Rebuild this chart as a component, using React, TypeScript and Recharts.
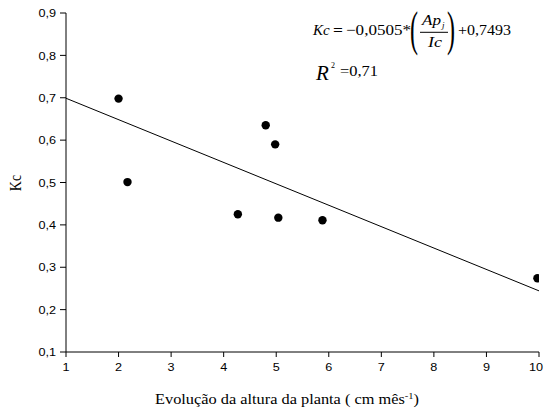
import React from 'react';
import { ScatterChart, Scatter, XAxis, YAxis, ReferenceLine } from 'recharts';

const growth = [2.0, 2.17, 4.27, 4.8, 4.98, 5.04, 5.88, 9.97];
const kcValues = [0.698, 0.501, 0.425, 0.635, 0.59, 0.417, 0.411, 0.274];
const xTicks = [1, 2, 3, 4, 5, 6, 7, 8, 9, 10];
const yTicks = [0.1, 0.2, 0.3, 0.4, 0.5, 0.6, 0.7, 0.8, 0.9];
const trendX = [1, 10];
const trendY = [0.6988, 0.2443];

const points = growth.map((x, i) => ({ x, y: kcValues[i] }));

const W = 544;
const H = 413;
const serifStyle = { fontFamily: "'Liberation Serif', 'Times New Roman', Times, serif" };
const sansStyle = { fontFamily: "'Liberation Sans', Arial, Helvetica, sans-serif" };

const Dot = (props: any) => <circle cx={props.cx} cy={props.cy} r={4.2} fill="#000" />;

const XTick = (p: any) => (
  <text
    transform={`translate(${Math.min(p.x, 536)},${p.y}) scale(1.1,1)`}
    textAnchor="middle"
    dy="0.75em"
    style={sansStyle}
    fontSize={11.5}
    fill="#000"
  >
    {p.payload.value}
  </text>
);

const YTick = (p: any) => (
  <text
    transform={`translate(${p.x},${p.y}) scale(1.1,1)`}
    textAnchor="end"
    dy="0.36em"
    style={sansStyle}
    fontSize={11.5}
    fill="#000"
  >
    {Number(p.payload.value).toFixed(1).replace('.', ',')}
  </text>
);

export default function App() {
  return (
    <div style={{ position: 'absolute', left: 0, top: 0, width: W, height: H, background: '#fff' }}>
      <ScatterChart width={W} height={H} margin={{ top: 13, right: 5, left: 0, bottom: 0 }}>
        <XAxis
          type="number"
          dataKey="x"
          domain={[1, 10]}
          ticks={xTicks}
          interval={0}
          height={61}
          tickSize={5}
          tickMargin={5}
          axisLine={{ stroke: '#000' }}
          tickLine={{ stroke: '#000' }}
          tick={XTick}
          allowDataOverflow
        />
        <YAxis
          type="number"
          dataKey="y"
          domain={[0.1, 0.9]}
          ticks={yTicks}
          interval={0}
          width={66}
          tickSize={6}
          tickMargin={4}
          axisLine={{ stroke: '#000' }}
          tickLine={{ stroke: '#000' }}
          tick={YTick}
          allowDataOverflow
        />
        <ReferenceLine
          segment={[
            { x: trendX[0], y: trendY[0] },
            { x: trendX[1], y: trendY[1] },
          ]}
          stroke="#000"
          strokeWidth={1}
          ifOverflow="visible"
        />
        <Scatter data={points} fill="#000" shape={Dot} isAnimationActive={false} />
      </ScatterChart>
      <svg
        width={W}
        height={H}
        style={{ position: 'absolute', left: 0, top: 0, pointerEvents: 'none' }}
      >
        <text
          x={0}
          y={0}
          transform="translate(21,183) scale(1.2,1) rotate(-90)"
          textAnchor="middle"
          style={serifStyle}
          fontSize={14}
          fill="#000"
        >
          Kc
        </text>
        <text
          x={155}
          y={404}
          textLength={264}
          lengthAdjust="spacingAndGlyphs"
          style={serifStyle}
          fontSize={14}
          fill="#000"
        >
          Evolução da altura da planta ( cm  mês
          <tspan dy={-5} fontSize={9}>-1</tspan>
          <tspan dy={5}>)</tspan>
        </text>
        <g style={serifStyle} fill="#000">
          <text x={313} y={35} fontSize={15} fontStyle="italic">Kc</text>
          <text x={333} y={35} fontSize={15} fontWeight="bold" textLength={10} lengthAdjust="spacingAndGlyphs">=</text>
          <text x={346} y={35} fontSize={15} textLength={65} lengthAdjust="spacingAndGlyphs">−0,0505*</text>
          <text x={0} y={0} fontSize={48} transform="translate(410,44.7) scale(0.5,1)">(</text>
          <text x={422} y={25} fontSize={14} fontStyle="italic" textLength={19} lengthAdjust="spacingAndGlyphs">Ap</text>
          <text x={442} y={28} fontSize={9} fontStyle="italic">j</text>
          <line x1={420} x2={448} y1={32.3} y2={32.3} stroke="#000" strokeWidth={1} />
          <text x={428} y={46.7} fontSize={14} fontStyle="italic" textLength={14} lengthAdjust="spacingAndGlyphs">Ic</text>
          <text x={0} y={0} fontSize={48} transform="translate(447,44.7) scale(0.5,1)">)</text>
          <text x={458} y={35} fontSize={15} textLength={53} lengthAdjust="spacingAndGlyphs">+0,7493</text>
          <text x={316} y={80} fontSize={21} fontStyle="italic">R</text>
          <text x={331} y={68} fontSize={8}>2</text>
          <text x={340} y={76} fontSize={14} textLength={38} lengthAdjust="spacingAndGlyphs">=0,71</text>
        </g>
      </svg>
    </div>
  );
}
